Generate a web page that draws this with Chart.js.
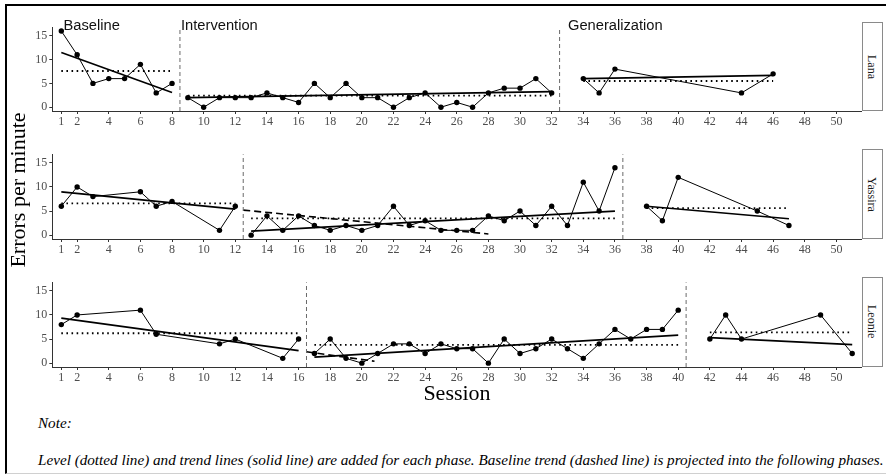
<!DOCTYPE html>
<html><head><meta charset="utf-8">
<script src="https://cdn.jsdelivr.net/npm/chart.js@4.4.1/dist/chart.umd.min.js"></script>
<style>
html,body{margin:0;padding:0;background:#fff;}
body{width:886px;height:475px;position:relative;overflow:hidden;}
canvas{position:absolute;left:0;}
.txt{position:absolute;white-space:nowrap;line-height:1;}
.phase{font-family:'Liberation Sans',Arial,sans-serif;font-size:14.7px;color:#111;}
.serif{font-family:'Liberation Serif','DejaVu Serif',serif;color:#000;}
.strip{position:absolute;box-sizing:border-box;border:1px solid #8a8a8a;background:#fff;display:flex;align-items:center;justify-content:center;}
.strip span{writing-mode:vertical-rl;font-family:'Liberation Serif','DejaVu Serif',serif;font-size:12px;color:#1a1a1a;line-height:1;}
#frame{position:absolute;left:5px;top:4px;width:900px;height:467px;border-left:2px solid #000;border-top:2px solid #000;border-bottom:1px solid #d0d0d0;}
</style></head><body>
<div id="frame"></div>
<div id="root"></div>
<script>
// ---------- axes ----------
const xTicks = [1,2,4,6,8,10,12,14,16,18,20,22,24,26,28,30,32,34,36,38,40,42,44,46,48,50];
const yTicks = [0,5,10,15];
const xRange = [0.43, 51.6];
const yRange = [-0.8, 16.8];
const participants = ['Lana','Yassira','Leonie'];
const phaseNames = ['Baseline','Intervention','Generalization'];

// ---------- Lana ----------
const lanaBaseX = [1,2,3,4,5,6,7,8];
const lanaBaseY = [16,11,5,6,6,9,3,5];
const lanaIntX  = [9,10,11,12,13,14,15,16,17,18,19,20,21,22,23,24,25,26,27,28,29,30,31,32];
const lanaIntY  = [2,0,2,2,2,3,2,1,5,2,5,2,2,0,2,3,0,1,0,3,4,4,6,3];
const lanaGenX  = [34,35,36,44,46];
const lanaGenY  = [6,3,8,3,7];
const lanaLevel = [7.6, 2.45, 5.5];
const lanaTrendStart = [11.5, 2.0, 6.0];
const lanaTrendEnd   = [3.1, 3.25, 6.7];
const lanaPhaseChanges = [8.5, 32.5];
const lanaProjX = [];
const lanaProjY = [];

// ---------- Yassira ----------
const yasBaseX = [1,2,3,6,7,8,11,12];
const yasBaseY = [6,10,8,9,6,7,1,6];
const yasIntX  = [13,14,15,16,17,18,19,20,21,22,23,24,25,26,27,28,29,30,31,32,33,34,35,36];
const yasIntY  = [0,4,1,4,2,1,2,1,2,6,2,3,1,1,1,4,3,5,2,6,2,11,5,14];
const yasGenX  = [38,39,40,45,47];
const yasGenY  = [6,3,12,5,2];
const yasLevel = [6.6, 3.5, 5.6];
const yasTrendStart = [9.0, 0.85, 6.0];
const yasTrendEnd   = [5.4, 5.0, 3.4];
const yasPhaseChanges = [12.5, 36.5];
const yasProjX = [12.5, 28];
const yasProjY = [5.2, 0.25];

// ---------- Leonie ----------
const leoBaseX = [1,2,6,7,11,12,15,16];
const leoBaseY = [8,10,11,6,4,5,1,5];
const leoIntX  = [17,18,19,20,21,22,23,24,25,26,27,28,29,30,31,32,33,34,35,36,37,38,39,40];
const leoIntY  = [2,5,1,0,2,4,4,2,4,3,3,0,5,2,3,5,3,1,4,7,5,7,7,11];
const leoGenX  = [42,43,44,49,51];
const leoGenY  = [5,10,5,10,2];
const leoLevel = [6.2, 3.8, 6.4];
const leoTrendStart = [9.35, 1.25, 5.3];
const leoTrendEnd   = [2.6, 5.8, 3.85];
const leoPhaseChanges = [16.5, 40.5];
const leoProjX = [16.5, 20.8];
const leoProjY = [2.35, 0.4];

// ---------- layout (pixels) ----------
const panelBoxes = [[22,111],[149,239],[277,367]];
const areaLeft = 52.3, areaRight = 861.7, padTop = 4, xAxisH = 22;

const zip = (xs, ys) => xs.map((x,i)=>({x:x, y:ys[i]}));

function buildPanel(idx, phX, phY, level, tStart, tEnd, pcs, projX, projY){
  const [T,B] = panelBoxes[idx];
  const cv = document.createElement('canvas');
  const W = Math.round(areaRight + 4.3);
  const H = Math.round(padTop + (B-T) + xAxisH);
  cv.width = W; cv.height = H;
  cv.style.width = W+'px'; cv.style.height = H+'px';
  cv.style.top = (T - padTop)+'px';
  document.getElementById('root').appendChild(cv);

  const ds = [];
  pcs.forEach(pc => ds.push({data:[{x:pc,y:yRange[0]},{x:pc,y:yRange[1]}], showLine:true,
    borderColor:'#6a6a6a', borderWidth:1, borderDash:[4,3], pointRadius:0}));
  phX.forEach((xs,i) => ds.push({data:[{x:xs[0],y:level[i]},{x:xs[xs.length-1],y:level[i]}], showLine:true,
    borderColor:'#000', borderWidth:1.8, borderDash:[1.6,3.5], pointRadius:0}));
  phX.forEach((xs,i) => ds.push({data:[{x:xs[0],y:tStart[i]},{x:xs[xs.length-1],y:tEnd[i]}], showLine:true,
    borderColor:'#000', borderWidth:1.7, pointRadius:0}));
  if (projX.length) ds.push({data:zip(projX,projY), showLine:true, borderColor:'#000', borderWidth:1.6,
    borderDash:[7,4], pointRadius:0});
  phX.forEach((xs,i) => ds.push({data:zip(xs,phY[i]), showLine:true, borderColor:'#000', borderWidth:1,
    pointRadius:2.7, pointBackgroundColor:'#000', pointBorderWidth:0, order:-1}));

  const tickFont = {family:"'Liberation Serif','DejaVu Serif',serif", size:12};
  new Chart(cv, {
    type:'scatter',
    data:{datasets:ds},
    options:{
      responsive:false, animation:false, devicePixelRatio:1,
      layout:{padding:{top:padTop,right:W-areaRight,left:0,bottom:0}},
      plugins:{legend:{display:false}, tooltip:{enabled:false}},
      elements:{line:{tension:0}},
      scales:{
        x:{type:'linear', min:xRange[0], max:xRange[1],
          afterBuildTicks:a=>{a.ticks = xTicks.map(v=>({value:v}));},
          afterFit:a=>{a.height = xAxisH;},
          ticks:{font:tickFont, color:'#4d4d4d', padding:1, maxRotation:0, autoSkip:false},
          grid:{drawOnChartArea:false, drawTicks:true, tickLength:3, color:'#333'},
          border:{display:true, color:'#333', width:1}},
        y:{type:'linear', min:yRange[0], max:yRange[1],
          afterBuildTicks:a=>{a.ticks = yTicks.map(v=>({value:v}));},
          afterFit:a=>{a.width = areaLeft;},
          ticks:{font:tickFont, color:'#4d4d4d', padding:2},
          grid:{drawOnChartArea:false, drawTicks:true, tickLength:3, color:'#333'},
          border:{display:true, color:'#333', width:1}}
      }
    }
  });

  const st = document.createElement('div');
  st.className = 'strip';
  st.style.left = areaRight+'px'; st.style.width = '21px';
  st.style.top = T+'px'; st.style.height = (B-T)+'px';
  st.innerHTML = '<span>'+participants[idx]+'</span>';
  document.getElementById('root').appendChild(st);
}

buildPanel(0,[lanaBaseX,lanaIntX,lanaGenX],[lanaBaseY,lanaIntY,lanaGenY],lanaLevel,lanaTrendStart,lanaTrendEnd,lanaPhaseChanges,lanaProjX,lanaProjY);
buildPanel(1,[yasBaseX,yasIntX,yasGenX],[yasBaseY,yasIntY,yasGenY],yasLevel,yasTrendStart,yasTrendEnd,yasPhaseChanges,yasProjX,yasProjY);
buildPanel(2,[leoBaseX,leoIntX,leoGenX],[leoBaseY,leoIntY,leoGenY],leoLevel,leoTrendStart,leoTrendEnd,leoPhaseChanges,leoProjX,leoProjY);

// ---------- text ----------
const root = document.getElementById('root');
function addText(txt, cls, left, baseline, fs, extra){
  const d = document.createElement('div');
  d.className = 'txt '+cls; d.textContent = txt;
  d.style.fontSize = fs+'px';
  d.style.left = left+'px';
  const asc = cls.indexOf('phase')>=0 ? 0.905 : 0.891;
  const desc = cls.indexOf('phase')>=0 ? 0.212 : 0.216;
  d.style.top = (baseline - ((fs - (asc+desc)*fs)/2 + asc*fs))+'px';
  if (extra) Object.assign(d.style, extra);
  root.appendChild(d);
  return d;
}
const phaseLabelX = [63.5, 181, 568];
phaseNames.forEach((n,i)=>addText(n,'phase',phaseLabelX[i],30.7,14.7));

const sess = addText('Session','serif',0,400,22);
sess.style.left = (457 - sess.getBoundingClientRect().width/2)+'px';

const yt = document.createElement('div');
yt.className = 'txt serif'; yt.textContent = 'Errors per minute';
yt.style.fontSize = '22px'; yt.style.lineHeight = '22px';
yt.style.width = '300px'; yt.style.textAlign = 'center';
root.appendChild(yt);
yt.style.left = (17.6 - 150)+'px'; yt.style.top = (190 - 11)+'px';
yt.style.transform = 'rotate(-90deg)'; yt.style.transformOrigin = '50% 50%';

const noteSentence = 'Level (dotted line) and trend lines (solid line) are added for each phase. Baseline trend (dashed line) is projected into the following phases.';
let nfs = 14;
const probe = addText(noteSentence,'serif',38,465,nfs,{fontStyle:'italic'});
const w = probe.getBoundingClientRect().width;
nfs = nfs * 846 / w;
probe.remove();
addText('Note:','serif',38,428,nfs,{fontStyle:'italic'});
addText(noteSentence,'serif',38,465,nfs,{fontStyle:'italic'});
</script>
</body></html>
